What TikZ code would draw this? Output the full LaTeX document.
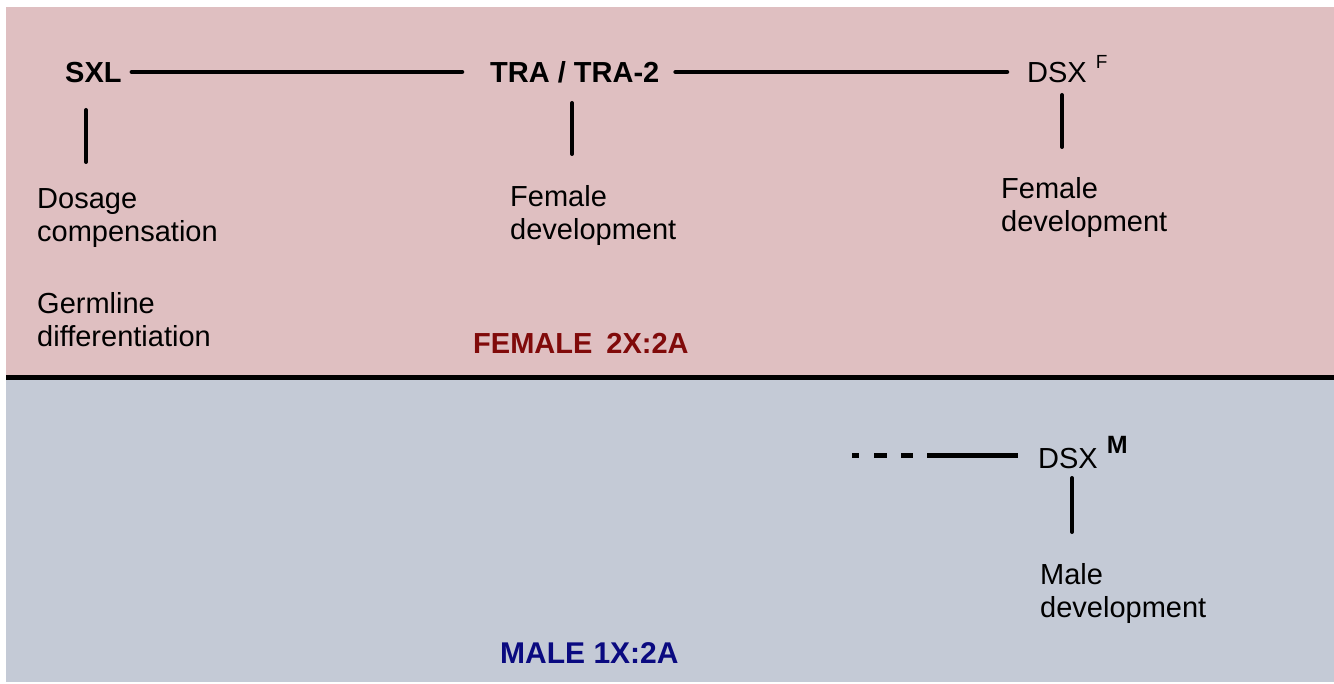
\documentclass[tikz,border=0pt]{standalone}
\usepackage{fontspec}
\setmainfont{Liberation Sans}
\definecolor{femalebg}{RGB}{223,191,193}
\definecolor{malebg}{RGB}{196,202,214}
\definecolor{femaletxt}{RGB}{128,10,10}
\definecolor{maletxt}{RGB}{10,10,128}
\begin{document}
\begin{tikzpicture}[x=1pt,y=-1pt,
  gene/.style={inner sep=0pt, text height=20pt, text depth=0pt, anchor=base west,
    font=\fontsize{29}{33}\selectfont},
  genebold/.style={gene, font=\fontsize{29}{33}\selectfont\bfseries},
  func/.style={inner sep=0pt, anchor=north west, align=left,
    font=\fontsize{29}{33}\selectfont},
  sexlabel/.style={inner sep=0pt, anchor=base west, font=\fontsize{29}{33}\selectfont\bfseries},
  link/.style={line width=4.5pt, line cap=round, black},
  tickline/.style={line width=4pt, line cap=round, black}]
\useasboundingbox (0,0) rectangle (1334,684);
\fill[white] (0,0) rectangle (1334,684);
\fill[femalebg] (6,7) rectangle (1334,377);
\fill[malebg] (6,377) rectangle (1334,682);
\draw[line width=4.5pt, black] (6,377.5) -- (1334,377.5);

% gene nodes
\node[genebold] (sxl) at (65,83) {SXL};
\node[genebold] (tra) at (490,83) {TRA / TRA-2};
\node[gene] (dsxf) at (1027,83) {DSX\hspace{9pt}\raisebox{14pt}{\fontsize{19}{19}\selectfont F}};
\node[gene] (dsxm) at (1038,468) {DSX\hspace{9pt}\raisebox{15pt}{\fontsize{25}{25}\selectfont\bfseries M}};

% function labels
\node[func] (dos) at (37,188) {Dosage\\compensation};
\node[func] (germ) at (37,292) {Germline\\differentiation};
\node[func] (ftra) at (510,185) {Female\\development};
\node[func] (fdsx) at (1001,177) {Female\\development};
\node[func] (mdsx) at (1040,563) {Male\\development};

% sex labels
\node[sexlabel, text=femaletxt] (fem) at (473,354) {FEMALE\hspace{14pt}2X:2A};
\node[sexlabel, text=maletxt, font=\fontsize{30}{33}\selectfont\bfseries] (mal) at (500,663) {MALE 1X:2A};

% horizontal pathway links
\draw[link] ([xshift=10pt,yshift=1pt]sxl.east) -- ([xshift=-28pt,yshift=1pt]tra.west);
\draw[link] ([xshift=16pt,yshift=1pt]tra.east) -- ([xshift=-20pt,yshift=1pt]dsxf.west);
\coordinate (mstart) at (852,456);
\draw[line width=5pt, dash pattern=on 7pt off 15pt on 13pt off 14pt on 12pt off 14pt on 91pt]
  (mstart) -- ([xshift=-20pt]mstart -| dsxm.west);

% vertical ticks
\coordinate (t1a) at (86,110); \coordinate (t1b) at (86,162);
\coordinate (t2a) at (572,103); \coordinate (t2b) at (572,154);
\coordinate (t3a) at (1062,95); \coordinate (t3b) at (1062,147);
\coordinate (t4a) at (1072,478); \coordinate (t4b) at (1072,532);
\draw[tickline] (t1a) -- (t1b);
\draw[tickline] (t2a) -- (t2b);
\draw[tickline] (t3a) -- (t3b);
\draw[tickline] (t4a) -- (t4b);
\end{tikzpicture}
\end{document}
